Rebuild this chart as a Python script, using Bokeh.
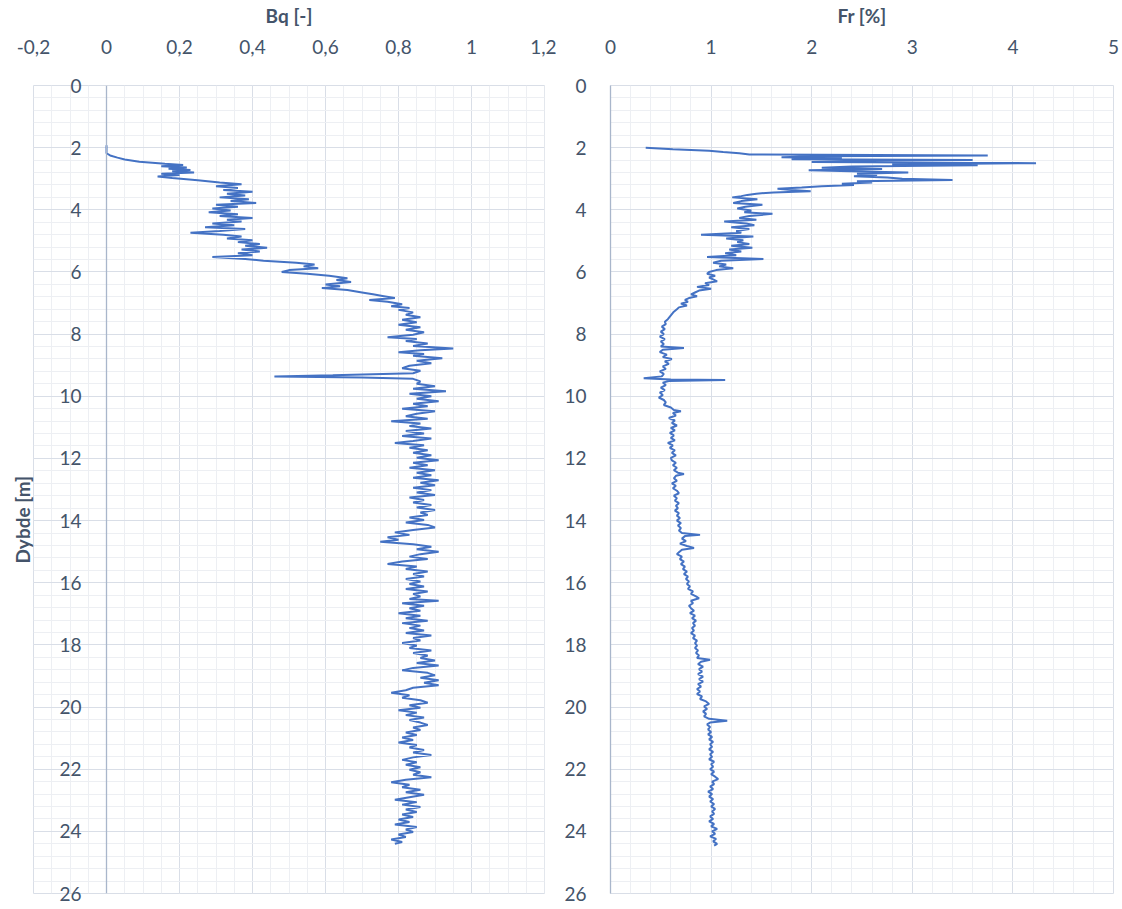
from bokeh.plotting import figure
from bokeh.models import Range1d, FixedTicker, CustomJSTickFormatter, Title, Span
from bokeh.layouts import row
from bokeh.embed import file_html
from bokeh.resources import INLINE

# ---------------- data ----------------
bq_depth = [1.92, 2.05, 2.18, 2.25, 2.32, 2.38, 2.45, 2.52, 2.56, 2.60, 2.64, 2.68, 2.72, 2.76, 2.80, 2.84, 2.88, 2.93, 2.98,
            3.05, 3.12, 3.18, 3.24, 3.30, 3.36, 3.42, 3.48, 3.54, 3.60, 3.66, 3.72, 3.78, 3.84, 3.90, 3.96,
            4.02, 4.08, 4.14, 4.20, 4.26, 4.32, 4.38, 4.44, 4.50, 4.56, 4.62, 4.68, 4.74, 4.80, 4.86, 4.92, 4.98,
            5.04, 5.10, 5.16, 5.22, 5.28, 5.34, 5.40, 5.46, 5.52, 5.58, 5.64, 5.70, 5.76, 5.82, 5.88, 5.94,
            6.00, 6.06, 6.12, 6.20, 6.26, 6.32, 6.40, 6.46, 6.52, 6.58, 6.66, 6.72, 6.78, 6.84, 6.90, 6.96,
            7.04, 7.10, 7.16, 7.22, 7.30, 7.38, 7.46, 7.54, 7.62, 7.70, 7.78, 7.86, 7.94,
            8.02, 8.10, 8.16, 8.22, 8.30, 8.38, 8.46, 8.52, 8.58, 8.64, 8.70, 8.78, 8.86, 8.94,
            9.02, 9.10, 9.18, 9.26, 9.32, 9.36, 9.40, 9.44, 9.52, 9.60, 9.68, 9.76, 9.84, 9.92,
            10.00, 10.08, 10.16, 10.24, 10.32, 10.40, 10.48, 10.56, 10.64, 10.72, 10.80, 10.88, 10.96,
            11.04, 11.12, 11.20, 11.28, 11.36, 11.44, 11.50, 11.58, 11.66, 11.74, 11.82, 11.90, 11.98,
            12.06, 12.14, 12.22, 12.30, 12.38, 12.46, 12.54, 12.62, 12.70, 12.78, 12.86, 12.94,
            13.02, 13.10, 13.18, 13.26, 13.34, 13.42, 13.50, 13.58, 13.66, 13.74, 13.82, 13.90, 13.98,
            14.06, 14.14, 14.22, 14.30, 14.38, 14.46, 14.54, 14.62, 14.68, 14.76, 14.84, 14.92,
            15.00, 15.08, 15.16, 15.24, 15.32, 15.40, 15.48, 15.56, 15.64, 15.72, 15.80, 15.88, 15.96,
            16.04, 16.12, 16.20, 16.28, 16.36, 16.44, 16.52, 16.58, 16.66, 16.74, 16.82, 16.90, 16.98,
            17.06, 17.14, 17.22, 17.30, 17.38, 17.46, 17.54, 17.62, 17.70, 17.78, 17.86, 17.94,
            18.02, 18.10, 18.18, 18.26, 18.34, 18.42, 18.50, 18.58, 18.66, 18.74, 18.82, 18.90, 18.98,
            19.06, 19.14, 19.22, 19.30, 19.38, 19.46, 19.54, 19.62, 19.70, 19.78, 19.86, 19.94,
            20.02, 20.10, 20.18, 20.26, 20.34, 20.42, 20.50, 20.58, 20.66, 20.74, 20.82, 20.90, 20.98,
            21.06, 21.14, 21.22, 21.30, 21.38, 21.46, 21.54, 21.62, 21.70, 21.78, 21.86, 21.94,
            22.02, 22.10, 22.18, 22.26, 22.34, 22.42, 22.50, 22.58, 22.66, 22.74, 22.82, 22.90, 22.98,
            23.06, 23.14, 23.22, 23.30, 23.38, 23.46, 23.54, 23.62, 23.70, 23.78, 23.86, 23.94,
            24.02, 24.10, 24.18, 24.26, 24.34, 24.40]
bq_value = [0.00, 0.00, 0.00, 0.01, 0.03, 0.05, 0.09, 0.16, 0.21, 0.15, 0.22, 0.17, 0.23, 0.18, 0.24, 0.15, 0.20, 0.14, 0.18,
            0.25, 0.31, 0.37, 0.30, 0.36, 0.32, 0.40, 0.33, 0.38, 0.31, 0.39, 0.34, 0.41, 0.30, 0.36, 0.29,
            0.34, 0.28, 0.36, 0.31, 0.40, 0.33, 0.37, 0.29, 0.35, 0.27, 0.38, 0.31, 0.23, 0.32, 0.37, 0.33, 0.40,
            0.36, 0.42, 0.38, 0.44, 0.37, 0.42, 0.36, 0.40, 0.29, 0.38, 0.43, 0.52, 0.57, 0.54, 0.58, 0.50,
            0.48, 0.55, 0.61, 0.66, 0.63, 0.67, 0.60, 0.64, 0.59, 0.66, 0.70, 0.73, 0.76, 0.79, 0.72, 0.77,
            0.81, 0.78, 0.83, 0.80, 0.84, 0.82, 0.86, 0.81, 0.85, 0.80, 0.86, 0.82, 0.87,
            0.84, 0.77, 0.85, 0.82, 0.88, 0.84, 0.95, 0.86, 0.80, 0.87, 0.84, 0.92, 0.85, 0.89,
            0.83, 0.81, 0.86, 0.84, 0.62, 0.46, 0.70, 0.84, 0.86, 0.85, 0.90, 0.84, 0.93, 0.83,
            0.89, 0.85, 0.91, 0.84, 0.88, 0.81, 0.90, 0.85, 0.82, 0.88, 0.78, 0.86, 0.83,
            0.89, 0.82, 0.87, 0.81, 0.89, 0.84, 0.79, 0.87, 0.83, 0.88, 0.84, 0.89, 0.85,
            0.91, 0.84, 0.88, 0.83, 0.90, 0.85, 0.89, 0.84, 0.91, 0.86, 0.90, 0.84,
            0.89, 0.85, 0.90, 0.83, 0.87, 0.84, 0.89, 0.85, 0.90, 0.86, 0.88, 0.83, 0.87,
            0.82, 0.88, 0.90, 0.84, 0.79, 0.83, 0.77, 0.80, 0.75, 0.84, 0.89, 0.85,
            0.91, 0.86, 0.83, 0.88, 0.81, 0.77, 0.85, 0.82, 0.88, 0.84, 0.87, 0.82, 0.86,
            0.83, 0.87, 0.82, 0.88, 0.84, 0.86, 0.83, 0.91, 0.81, 0.87, 0.83, 0.86, 0.80,
            0.86, 0.82, 0.88, 0.81, 0.86, 0.83, 0.87, 0.82, 0.89, 0.84, 0.86, 0.81,
            0.85, 0.83, 0.89, 0.84, 0.88, 0.86, 0.90, 0.85, 0.91, 0.84, 0.81, 0.88, 0.90,
            0.86, 0.91, 0.87, 0.91, 0.84, 0.82, 0.78, 0.83, 0.81, 0.86, 0.88, 0.83,
            0.86, 0.80, 0.85, 0.82, 0.87, 0.83, 0.86, 0.88, 0.84, 0.86, 0.82, 0.85, 0.81,
            0.84, 0.80, 0.85, 0.83, 0.87, 0.84, 0.89, 0.84, 0.81, 0.85, 0.82, 0.86,
            0.83, 0.86, 0.84, 0.89, 0.82, 0.78, 0.83, 0.81, 0.86, 0.82, 0.87, 0.83, 0.79,
            0.85, 0.81, 0.86, 0.82, 0.85, 0.81, 0.84, 0.80, 0.83, 0.79, 0.85, 0.82,
            0.84, 0.80, 0.82, 0.78, 0.81, 0.79]

fr_depth = [2.00, 2.05, 2.10, 2.14, 2.18, 2.22, 2.25, 2.28, 2.31, 2.34, 2.37, 2.40, 2.43, 2.46, 2.50, 2.54, 2.57, 2.61,
            2.65, 2.69, 2.73, 2.77, 2.80, 2.84, 2.88, 2.92, 2.96, 3.00, 3.04, 3.08, 3.12, 3.16, 3.20, 3.24, 3.28,
            3.32, 3.36, 3.40, 3.44, 3.48, 3.52, 3.56, 3.60, 3.66, 3.72, 3.78, 3.84, 3.90, 3.96,
            4.02, 4.08, 4.13, 4.20, 4.26, 4.32, 4.38, 4.44, 4.50, 4.56, 4.62, 4.68, 4.74, 4.80, 4.86, 4.92, 4.98,
            5.04, 5.10, 5.16, 5.22, 5.28, 5.34, 5.40, 5.46, 5.52, 5.58, 5.64, 5.70, 5.76, 5.82, 5.88, 5.94,
            6.00, 6.06, 6.12, 6.18, 6.24, 6.30, 6.36, 6.42, 6.48, 6.54, 6.60, 6.66, 6.72, 6.78, 6.84, 6.90, 6.96,
            7.02, 7.08, 7.14, 7.20, 7.28, 7.36, 7.44, 7.52, 7.60, 7.68, 7.76, 7.84, 7.92,
            8.00, 8.08, 8.16, 8.24, 8.32, 8.40, 8.45, 8.50, 8.58, 8.66, 8.74, 8.80, 8.88, 8.96,
            9.04, 9.12, 9.20, 9.28, 9.36, 9.42, 9.46, 9.48, 9.51, 9.56, 9.64, 9.72, 9.80, 9.88, 9.96,
            10.04, 10.12, 10.20, 10.28, 10.36, 10.44, 10.48, 10.54, 10.62, 10.70, 10.78, 10.86, 10.94,
            11.02, 11.10, 11.18, 11.26, 11.34, 11.42, 11.50, 11.58, 11.66, 11.74, 11.82, 11.90, 11.98,
            12.06, 12.14, 12.22, 12.30, 12.38, 12.46, 12.50, 12.56, 12.64, 12.72, 12.80, 12.88, 12.96,
            13.04, 13.12, 13.20, 13.28, 13.36, 13.44, 13.52, 13.60, 13.68, 13.76, 13.84, 13.92,
            14.00, 14.08, 14.16, 14.24, 14.32, 14.40, 14.46, 14.50, 14.58, 14.66, 14.74, 14.82, 14.88, 14.94,
            15.02, 15.08, 15.16, 15.24, 15.32, 15.40, 15.48, 15.56, 15.64, 15.72, 15.80, 15.88, 15.96,
            16.04, 16.12, 16.20, 16.28, 16.36, 16.44, 16.50, 16.58, 16.66, 16.74, 16.82, 16.90, 16.98,
            17.06, 17.14, 17.22, 17.30, 17.38, 17.46, 17.54, 17.62, 17.70, 17.78, 17.86, 17.94,
            18.02, 18.10, 18.18, 18.26, 18.34, 18.42, 18.48, 18.54, 18.62, 18.70, 18.78, 18.86, 18.94,
            19.02, 19.10, 19.18, 19.26, 19.34, 19.42, 19.50, 19.58, 19.66, 19.74, 19.82, 19.90, 19.98,
            20.06, 20.14, 20.22, 20.30, 20.38, 20.44, 20.50, 20.56, 20.64, 20.72, 20.80, 20.88, 20.96,
            21.04, 21.12, 21.20, 21.28, 21.36, 21.44, 21.52, 21.60, 21.68, 21.76, 21.84, 21.92,
            22.00, 22.08, 22.16, 22.24, 22.32, 22.40, 22.48, 22.56, 22.64, 22.72, 22.80, 22.88, 22.96,
            23.04, 23.12, 23.20, 23.28, 23.36, 23.44, 23.52, 23.60, 23.68, 23.76, 23.84, 23.92,
            24.00, 24.08, 24.16, 24.24, 24.32, 24.40, 24.46]
fr_value = [0.35, 0.62, 0.98, 1.12, 1.28, 1.38, 3.75, 2.05, 1.70, 2.30, 1.80, 3.60, 2.60, 2.00, 4.23, 2.80, 3.65, 2.40,
            2.10, 2.70, 1.97, 2.50, 2.96, 2.45, 2.65, 2.42, 2.75, 2.90, 3.40, 2.45, 2.60, 2.30, 2.42, 2.10, 1.90,
            1.66, 1.80, 1.99, 1.62, 1.45, 1.36, 1.30, 1.21, 1.46, 1.30, 1.22, 1.51, 1.34, 1.26,
            1.40, 1.33, 1.61, 1.38, 1.28, 1.45, 1.13, 1.35, 1.43, 1.20, 1.38, 1.25, 1.30, 0.90, 1.42, 1.15, 1.32,
            1.26, 1.38, 1.20, 1.41, 1.18, 1.30, 1.14, 1.25, 0.96, 1.52, 1.10, 1.02, 1.15, 1.08, 1.22, 1.05,
            0.98, 0.96, 1.04, 0.98, 1.02, 1.06, 0.94, 0.98, 0.86, 1.00, 0.88, 0.84, 0.80, 0.86, 0.78, 0.74, 0.77,
            0.70, 0.76, 0.68, 0.66, 0.63, 0.61, 0.59, 0.57, 0.54, 0.55, 0.51, 0.54, 0.50,
            0.53, 0.49, 0.54, 0.50, 0.53, 0.50, 0.73, 0.52, 0.49, 0.56, 0.52, 0.61, 0.54, 0.58,
            0.52, 0.55, 0.49, 0.53, 0.51, 0.33, 0.60, 1.14, 0.58, 0.52, 0.55, 0.50, 0.54, 0.49, 0.52,
            0.48, 0.53, 0.55, 0.53, 0.60, 0.63, 0.70, 0.62, 0.65, 0.58, 0.64, 0.61, 0.66,
            0.60, 0.64, 0.59, 0.63, 0.60, 0.64, 0.57, 0.62, 0.59, 0.64, 0.61, 0.65, 0.60,
            0.61, 0.65, 0.62, 0.66, 0.63, 0.67, 0.73, 0.65, 0.63, 0.66, 0.61, 0.65, 0.62,
            0.66, 0.68, 0.63, 0.66, 0.64, 0.68, 0.65, 0.67, 0.64, 0.68, 0.66, 0.69,
            0.66, 0.70, 0.67, 0.70, 0.68, 0.71, 0.89, 0.74, 0.71, 0.75, 0.69, 0.76, 0.83, 0.71,
            0.68, 0.66, 0.71, 0.69, 0.73, 0.70, 0.74, 0.72, 0.76, 0.73, 0.77, 0.75, 0.78,
            0.76, 0.79, 0.77, 0.82, 0.80, 0.85, 0.88, 0.80, 0.82, 0.78, 0.80, 0.83, 0.79,
            0.84, 0.81, 0.85, 0.82, 0.84, 0.81, 0.83, 0.80, 0.84, 0.82, 0.86, 0.84,
            0.86, 0.84, 0.87, 0.85, 0.88, 0.86, 0.99, 0.90, 0.87, 0.92, 0.88, 0.91, 0.87,
            0.92, 0.88, 0.92, 0.87, 0.90, 0.86, 0.89, 0.86, 0.91, 0.89, 0.95, 0.98, 0.93,
            0.96, 0.92, 0.95, 0.93, 0.98, 1.16, 0.99, 0.96, 0.99, 0.97, 1.00, 0.97, 1.01,
            0.98, 1.02, 0.99, 1.01, 0.98, 1.02, 0.99, 1.01, 0.98, 1.03, 1.00, 1.02,
            0.99, 1.03, 1.00, 1.04, 1.07, 1.01, 1.03, 0.99, 1.02, 0.97, 1.01, 0.98, 1.02,
            0.99, 1.03, 1.00, 1.04, 1.01, 1.03, 0.99, 1.02, 0.98, 1.03, 1.00, 1.06,
            1.01, 1.04, 0.99, 1.05, 1.02, 1.06, 1.03]

bq_ticks = [-0.2, 0.0, 0.2, 0.4, 0.6, 0.8, 1.0, 1.2]
fr_ticks = [0, 1, 2, 3, 4, 5]
depth_ticks = [0, 2, 4, 6, 8, 10, 12, 14, 16, 18, 20, 22, 24, 26]

# ---------------- style ----------------
LINE = "#4472C4"
TXT = "#44546A"
MAJ = "#D9DEE7"
MIN = "#EDEFF3"
AXL = "#A9B6CB"
FONT = "Lato"
FS = "19px"

depth_minor = [i * 0.4 for i in range(66)]
bq_minor = [-0.2 + i * 0.05 for i in range(29)]
fr_minor = [i * 0.2 for i in range(26)]

fmt = CustomJSTickFormatter(code="return (Math.round(tick*10)/10).toString().replace('.', ',');")


def style(p, xticks, xminor, xlabel):
    p.background_fill_color = "white"
    p.border_fill_color = "white"
    p.outline_line_color = MAJ
    p.outline_line_width = 1
    xa = p.xaxis[0]
    xa.ticker = FixedTicker(ticks=xticks, minor_ticks=xminor)
    xa.formatter = fmt
    xa.axis_label = xlabel
    xa.axis_label_text_font = FONT
    xa.axis_label_text_font_size = FS
    xa.axis_label_text_font_style = "bold"
    xa.axis_label_text_color = TXT
    xa.axis_label_standoff = 10
    xa.major_label_text_font = FONT
    xa.major_label_text_font_size = FS
    xa.major_label_text_color = TXT
    xa.major_label_standoff = 26
    xa.axis_line_color = None
    xa.major_tick_line_color = None
    xa.minor_tick_line_color = None
    ya = p.yaxis[0]
    ya.ticker = FixedTicker(ticks=depth_ticks, minor_ticks=depth_minor)
    ya.major_label_text_font = FONT
    ya.major_label_text_font_size = FS
    ya.major_label_text_color = TXT
    ya.major_label_standoff = 20
    ya.axis_line_color = AXL
    ya.axis_line_width = 1.3
    ya.major_tick_line_color = None
    ya.minor_tick_line_color = None
    for g in (p.xgrid[0], p.ygrid[0]):
        g.grid_line_color = MAJ
        g.grid_line_width = 1
        g.minor_grid_line_color = MIN
        g.minor_grid_line_width = 1


FRAME_H = 808

p1 = figure(frame_width=511, frame_height=FRAME_H, x_range=Range1d(-0.2, 1.2), y_range=Range1d(26, 0),
            x_axis_location="above", output_backend="svg", toolbar_location=None,
            min_border_left=33, min_border_right=12, min_border_top=0, min_border_bottom=15)
style(p1, bq_ticks, bq_minor, "Bq [-]")
ya1 = p1.yaxis[0]
ya1.axis_line_color = None
ya1.major_label_standoff = -54
p1.add_layout(Title(text="Dybde [m]", align="left", text_font=FONT, text_font_size=FS,
                    text_font_style="bold", text_color=TXT, standoff=0, offset=330), "left")
p1.add_layout(Span(location=0, dimension="height", line_color=AXL, line_width=1.3))
p1.line(bq_value, bq_depth, line_color=LINE, line_width=2)

p2 = figure(frame_width=503, frame_height=FRAME_H, x_range=Range1d(0, 5), y_range=Range1d(26, 0),
            x_axis_location="above", output_backend="svg", toolbar_location=None,
            min_border_left=54, min_border_right=9, min_border_top=0, min_border_bottom=15)
style(p2, fr_ticks, fr_minor, "Fr [%]")
p2.yaxis[0].major_label_standoff = 18
p2.line(fr_value, fr_depth, line_color=LINE, line_width=2)

layout = row(p1, p2)
open("out.html", "w").write(file_html(layout, INLINE))
